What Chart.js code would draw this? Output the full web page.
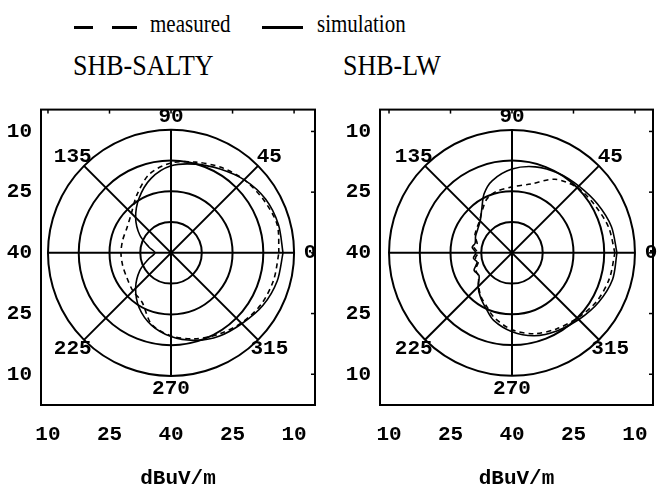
<!DOCTYPE html>
<html>
<head>
<meta charset="utf-8">
<script src="https://cdn.jsdelivr.net/npm/chart.js@4.4.0/dist/chart.umd.min.js"></script>
<style>
html, body { margin: 0; padding: 0; background: #fff; width: 659px; height: 486px; overflow: hidden; }
body { position: relative; }
.serif { position: absolute; font-family: "Liberation Serif", "Times New Roman", serif; color: #000; white-space: nowrap; }
.legend { font-size: 21px; line-height: 21px; top: 15px; transform: scaleY(1.15); transform-origin: 0 17.6px; }
.title { font-size: 26px; line-height: 26px; top: 54px; transform: scaleY(1.17); transform-origin: 0 21.8px; }
.key { position: absolute; height: 3px; background: #000; top: 26px; }
canvas { position: absolute; top: 96px; }
</style>
</head>
<body>
<div class="key" style="left:74px;width:19px"></div>
<div class="key" style="left:112px;width:25px"></div>
<div class="serif legend" style="left:150px">measured</div>
<div class="key" style="left:262px;width:41px"></div>
<div class="serif legend" style="left:317px">simulation</div>
<div class="serif title" style="left:73px">SHB-SALTY</div>
<div class="serif title" style="left:343px">SHB-LW</div>

<canvas id="saltyChart" width="330" height="400" style="left:0px"></canvas>
<canvas id="lwChart" width="329" height="400" style="left:330px"></canvas>

<script>
// Polar field strength patterns, dBuV/m (40 in the middle, 10 on the outer ring)
const centerValue = 40;
const edgeValue = 10;
const ringValues = [10, 17.5, 25, 32.5];
const tickValues = [10, 25, 40, 25, 10];
const spokeAngles = [0, 45, 90, 135, 180, 225, 270, 315];
const angleLabels = [0, 45, 90, 135, 225, 270, 315];

// SHB-SALTY
const saltyAngles = [0, 15, 30, 45, 60, 75, 90, 105, 120, 135, 150, 165, 180, 195, 210, 225, 240, 255, 270, 285, 300, 315, 330, 345];
const saltySim = [12.7, 12.9, 13.4, 14.6, 16.1, 17.3, 18.5, 21.0, 24.4, 27.8, 31.2, 34.4, 36.1, 34.4, 31.2, 27.8, 24.4, 21.5, 19.3, 17.6, 16.3, 15.4, 14.1, 13.2];
const saltyMeas = [13.7, 13.2, 13.9, 14.6, 15.6, 16.8, 17.8, 19.8, 23.4, 26.3, 27.6, 27.8, 27.8, 27.8, 27.6, 26.8, 25.9, 21.7, 19.5, 18.0, 16.8, 15.6, 14.6, 14.1];

// SHB-LW
const lwAngles = [0, 15, 30, 45, 60, 75, 90, 105, 115, 125, 135, 145, 155, 165, 172, 180, 188, 195, 205, 215, 225, 235, 245, 255, 270, 285, 300, 315, 330, 345];
const lwSim = [14.4, 14.9, 15.9, 16.8, 17.3, 18.0, 19.3, 21.5, 23.9, 27.1, 29.0, 29.8, 30.2, 30.7, 30.2, 31.2, 30.5, 31.2, 29.8, 30.2, 28.3, 26.6, 24.9, 22.7, 20.5, 18.8, 17.8, 16.8, 15.6, 14.6];
const lwMeas = [14.9, 15.6, 16.6, 17.3, 19.0, 22.4, 23.7, 24.4, 25.4, 27.3, 28.8, 29.5, 30.0, 31.2, 30.7, 31.7, 31.0, 31.5, 30.2, 30.0, 28.5, 26.8, 25.4, 23.4, 21.0, 19.3, 18.3, 17.3, 16.1, 15.4];

const monoFont = { family: '"Liberation Mono", "Courier New", monospace', size: 21, weight: 'bold' };

// polar (angle, dB) -> x/y in "distance from the middle" units
function toPoints(angles, values) {
    const pts = angles.map((a, i) => {
        const r = centerValue - values[i];
        const t = a * Math.PI / 180;
        return { x: r * Math.cos(t), y: r * Math.sin(t) };
    });
    pts.push(pts[0]);
    return pts;
}

const tickOffsets = tickValues.map((v, i) => (i < 2 ? -1 : 1) * (centerValue - v));

// Rings, spokes, angle labels and the frame
const polarGrid = {
    id: 'polarGrid',
    beforeDatasetsDraw(chart) {
        const { ctx, chartArea, scales: { x, y } } = chart;
        const cx = x.getPixelForValue(0);
        const cy = y.getPixelForValue(0);
        const R = x.getPixelForValue(centerValue - edgeValue) - cx;
        ctx.save();
        ctx.strokeStyle = '#000';
        ctx.lineWidth = 2;
        ringValues.forEach(v => {
            const r = x.getPixelForValue(centerValue - v) - cx;
            ctx.beginPath();
            ctx.arc(cx, cy, r, 0, Math.PI * 2);
            ctx.stroke();
        });
        spokeAngles.forEach(a => {
            const t = a * Math.PI / 180;
            ctx.beginPath();
            ctx.moveTo(cx, cy);
            ctx.lineTo(cx + R * Math.cos(t), cy - R * Math.sin(t));
            ctx.stroke();
        });
        ctx.strokeRect(chartArea.left, chartArea.top, chartArea.width, chartArea.height);

        // small inward ticks on top and right edges
        ctx.lineWidth = 1.5;
        tickOffsets.forEach(v => {
            const px = x.getPixelForValue(v);
            ctx.beginPath();
            ctx.moveTo(px, chartArea.top);
            ctx.lineTo(px, chartArea.top + 4);
            ctx.stroke();
            const py = y.getPixelForValue(v);
            ctx.beginPath();
            ctx.moveTo(chartArea.right, py);
            ctx.lineTo(chartArea.right - 4, py);
            ctx.stroke();
        });

        ctx.fillStyle = '#000';
        ctx.font = Chart.helpers.toFont(monoFont).string;
        ctx.textAlign = 'center';
        ctx.textBaseline = 'middle';
        angleLabels.forEach(a => {
            const t = a * Math.PI / 180;
            const c = Math.cos(t), s = Math.sin(t);
            const lx = cx + R * c + 16 * c;
            const ly = cy - R * s - 13 * s;
            ctx.fillText(String(a), lx, ly);
        });
        ctx.restore();
    }
};

function makePanel(canvasId, angles, sim, meas, xRange, yAxisWidth, rightPad) {
    const ctx = document.getElementById(canvasId).getContext('2d');
    new Chart(ctx, {
        type: 'scatter',
        data: {
            datasets: [{
                label: 'simulation',
                data: toPoints(angles, sim),
                showLine: true,
                borderColor: '#000',
                borderWidth: 1.6,
                pointRadius: 0,
                tension: 0.3
            }, {
                label: 'measured',
                data: toPoints(angles, meas),
                showLine: true,
                borderColor: '#000',
                borderWidth: 1.6,
                borderDash: [5, 4],
                pointRadius: 0,
                tension: 0.3
            }]
        },
        options: {
            responsive: false,
            animation: false,
            layout: { padding: { top: 10, right: rightPad, left: 0, bottom: 0 } },
            plugins: {
                legend: { display: false },
                tooltip: { enabled: false }
            },
            scales: {
                x: {
                    type: 'linear',
                    min: xRange[0],
                    max: xRange[1],
                    afterBuildTicks: s => { s.ticks = tickOffsets.map(v => ({ value: v })); },
                    afterFit: s => { s.height = 91; },
                    grid: { display: false },
                    border: { display: false },
                    ticks: {
                        color: '#000',
                        font: monoFont,
                        padding: 9,
                        maxRotation: 0,
                        callback: v => centerValue - Math.abs(v)
                    },
                    title: {
                        display: true,
                        text: 'dBuV/m',
                        color: '#000',
                        font: monoFont,
                        padding: { top: 0, bottom: 5 }
                    }
                },
                y: {
                    type: 'linear',
                    min: -37.6,
                    max: 35.4,
                    afterBuildTicks: s => { s.ticks = tickOffsets.map(v => ({ value: v })); },
                    afterFit: s => { s.width = yAxisWidth; },
                    grid: { display: false },
                    border: { display: false },
                    ticks: {
                        color: '#000',
                        font: monoFont,
                        padding: 1,
                        callback: v => centerValue - Math.abs(v)
                    }
                }
            }
        },
        plugins: [polarGrid]
    });
}

makePanel('saltyChart', saltyAngles, saltySim, saltyMeas, [-31.7, 35.1], 41, 15);
makePanel('lwChart', lwAngles, lwSim, lwMeas, [-32.2, 34.4], 50, 6);
</script>
</body>
</html>
